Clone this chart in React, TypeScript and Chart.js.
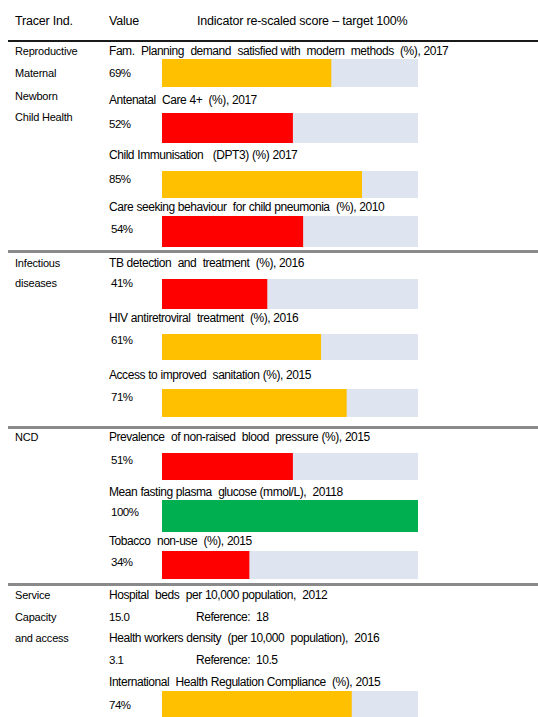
import React, { useEffect, useRef } from "react";
import { Chart, registerables } from "chart.js";

Chart.register(...registerables);

// ---------- DATA ----------
const headerLabels = ["Tracer Ind.", "Value", "Indicator re-scaled score \u2013 target 100%"];

const groupLines = [
  ["Reproductive", "Maternal", "Newborn", "Child Health"],
  ["Infectious", "diseases"],
  ["NCD"],
  ["Service", "Capacity", "and access"],
];

const indicatorLabels = [
  "Fam.  Planning  demand  satisfied with  modern  methods  (%), 2017",
  "Antenatal  Care 4+  (%), 2017",
  "Child Immunisation   (DPT3) (%) 2017",
  "Care seeking behaviour  for child pneumonia  (%), 2010",
  "TB detection  and  treatment  (%), 2016",
  "HIV antiretroviral  treatment  (%), 2016",
  "Access to improved  sanitation (%), 2015",
  "Prevalence  of non-raised  blood  pressure (%), 2015",
  "Mean fasting plasma  glucose (mmol/L),  20118",
  "Tobacco  non-use  (%), 2015",
  "Hospital  beds  per 10,000 population,  2012",
  "Health workers density  (per 10,000  population),  2016",
  "International  Health Regulation Compliance  (%), 2015",
];

const valueLabels = ["69%", "52%", "85%", "54%", "41%", "61%", "71%", "51%", "100%", "34%", "15.0", "3.1", "74%"];

// re-scaled score drawn as bar (null = no bar)
const scores: (number | null)[] = [66, 51, 78, 55, 41, 62, 72, 51, 100, 34, null, null, 74];

const referenceLabels: (string | null)[] = [
  null, null, null, null, null, null, null, null, null, null,
  "Reference:  18", "Reference:  10.5", null,
];

// ---------- LAYOUT (page pixels) ----------
const GROUP_LINE_Y = [[51, 73, 96, 117], [263, 283], [437], [595, 617, 638]];
const TITLE_Y = [51, 100, 155, 207, 263, 318, 375, 437, 492, 541, 595, 638, 682];
const VALUE_Y = [73, 124, 179, 229, 283, 340, 397, 460, 512, 562, 617, 660, 705];
const VALUE_X = [109, 109, 109, 111, 111, 111, 111, 111, 111, 111, 109, 109, 109];
const BAR_TOP = [59, 113, 171, 216, 279, 334, 389, 453, 500, 551, 0, 0, 691];
const BAR_H = [28, 30, 27, 31, 30, 26, 28, 27, 32, 28, 0, 0, 30];
const SEPARATOR_Y = [250, 425.5, 582.5];
const BAR_LEFT = 162;
const BAR_WIDTH = 256;

const FONT = '"Liberation Sans", Arial, Helvetica, sans-serif';

function scoreColor(s: number): string {
  if (s >= 90) return "#00B050";
  if (s >= 60) return "#FFC000";
  return "#FF0000";
}

function ScoreBar({ score, top, height }: { score: number; top: number; height: number }) {
  const ref = useRef<HTMLCanvasElement>(null);
  useEffect(() => {
    if (!ref.current) return;
    const chart = new Chart(ref.current, {
      type: "bar",
      data: {
        labels: [""],
        datasets: [
          {
            data: [score],
            backgroundColor: scoreColor(score),
            borderWidth: 0,
            barPercentage: 1,
            categoryPercentage: 1,
          },
          {
            data: [100 - score],
            backgroundColor: "#DFE5F0",
            borderWidth: 0,
            barPercentage: 1,
            categoryPercentage: 1,
          },
        ],
      },
      options: {
        indexAxis: "y",
        responsive: false,
        maintainAspectRatio: false,
        animation: false,
        layout: { padding: 0 },
        scales: {
          x: { stacked: true, min: 0, max: 100, display: false },
          y: { stacked: true, display: false },
        },
        plugins: { legend: { display: false }, tooltip: { enabled: false } },
      },
    });
    return () => chart.destroy();
  }, [score, height]);
  return (
    <canvas
      ref={ref}
      width={BAR_WIDTH}
      height={height}
      style={{ position: "absolute", left: BAR_LEFT, top, width: BAR_WIDTH, height }}
    />
  );
}

function Txt({
  x, y, size, children, ws, ls,
}: { x: number; y: number; size: number; children: React.ReactNode; ws?: number; ls?: number }) {
  const lh = 16;
  return (
    <div
      style={{
        position: "absolute",
        left: x,
        top: y - lh / 2,
        lineHeight: lh + "px",
        fontSize: size,
        fontFamily: FONT,
        color: "#000",
        whiteSpace: "pre",
        wordSpacing: ws ?? 0,
        letterSpacing: ls ?? 0,
      }}
    >
      {children}
    </div>
  );
}

export default function App() {
  return (
    <div
      style={{
        position: "absolute",
        left: 0,
        top: 0,
        width: 538,
        height: 717,
        overflow: "hidden",
        background: "#fff",
      }}
    >
      {/* header */}
      <Txt x={15} y={21} size={12.5} ls={-0.2}>{headerLabels[0]}</Txt>
      <Txt x={109} y={21} size={12.5} ls={-0.2}>{headerLabels[1]}</Txt>
      <Txt x={197} y={21} size={12.5} ls={-0.2}>{headerLabels[2]}</Txt>
      <div style={{ position: "absolute", left: 8, top: 39.5, width: 530, height: 2, background: "#1a1a1a" }} />

      {/* group labels */}
      {groupLines.map((lines, g) =>
        lines.map((t, i) => (
          <Txt key={`g${g}-${i}`} x={15} y={GROUP_LINE_Y[g][i]} size={11} ls={-0.2}>
            {t}
          </Txt>
        ))
      )}

      {/* separators */}
      {SEPARATOR_Y.map((y, i) => (
        <div
          key={`s${i}`}
          style={{
            position: "absolute",
            left: 8,
            top: y,
            width: 530,
            height: 3,
            background: "#8a8a8a",
          }}
        />
      ))}

      {/* indicators */}
      {indicatorLabels.map((t, i) => (
        <React.Fragment key={`r${i}`}>
          <Txt x={109} y={TITLE_Y[i]} size={12} ws={0.3} ls={-0.45}>
            {t}
          </Txt>
          <Txt x={VALUE_X[i]} y={VALUE_Y[i]} size={11.5} ls={-0.5}>
            {valueLabels[i]}
          </Txt>
          {referenceLabels[i] && (
            <Txt x={196} y={VALUE_Y[i]} size={12} ls={-0.45}>
              {referenceLabels[i]}
            </Txt>
          )}
          {scores[i] !== null && <ScoreBar score={scores[i] as number} top={BAR_TOP[i]} height={BAR_H[i]} />}
        </React.Fragment>
      ))}
    </div>
  );
}
